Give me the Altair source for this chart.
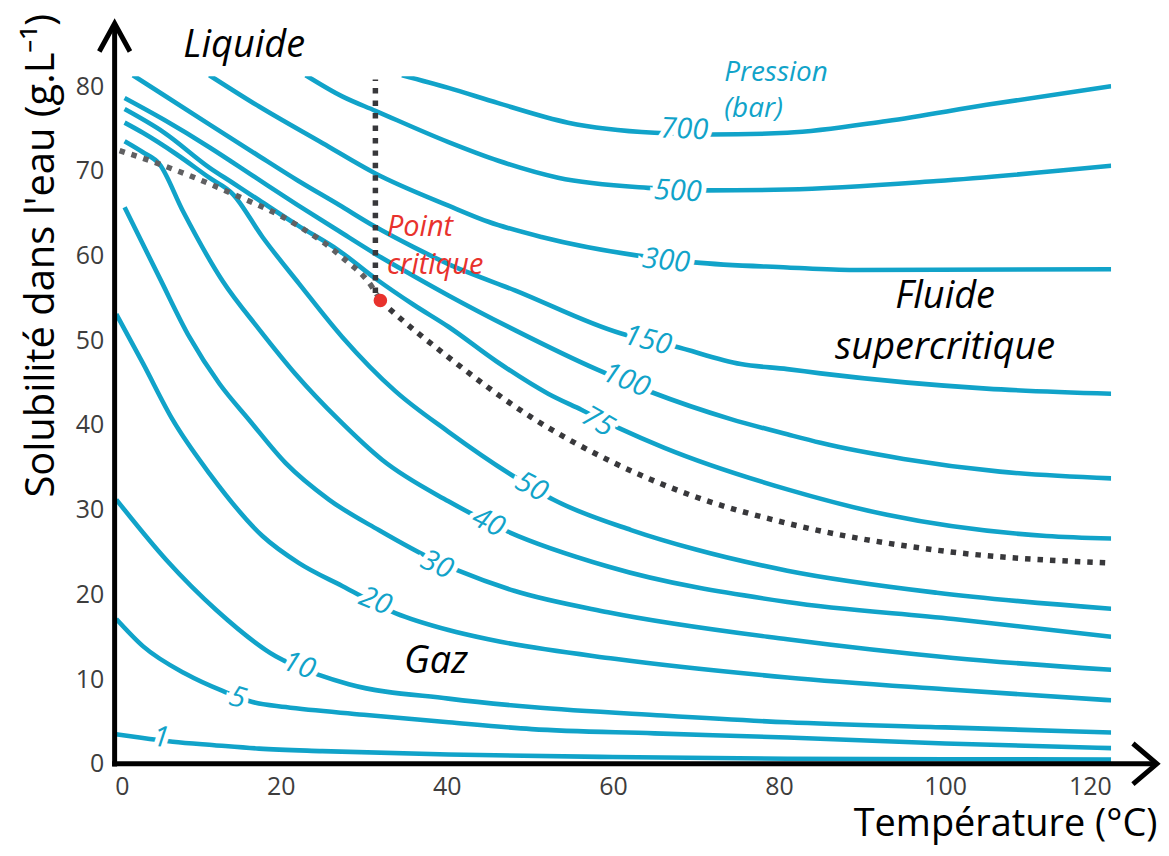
import altair as alt
import pandas as pd

CYAN = "#11a3c9"
RED = "#e8322d"
FONT = "Open Sans"

# ---------------- data ----------------
pressures = ["1", "5", "10", "20", "30", "40", "50", "75", "100", "150", "300", "500", "700"]

T_1 = [0.2, 3, 7, 12, 17.4, 25, 40.2, 60, 81, 100, 120]
S_1 = [3.5, 3.1, 2.6, 2.2, 1.8, 1.5, 1.1, 0.8, 0.6, 0.55, 0.5]

T_5 = [0.2, 3.4, 8.6, 13, 16.6, 20.6, 30, 40.2, 50.2, 65, 81, 100, 120]
S_5 = [17.1, 13.9, 10.6, 8.6, 7.3, 6.7, 5.8, 4.9, 4.1, 3.6, 3.1, 2.4, 1.85]

T_10 = [0.2, 6.2, 12.2, 19.4, 24.6, 28.2, 40.2, 50.2, 66, 81, 100, 120]
S_10 = [31.2, 24.1, 18.2, 12.7, 10.5, 9.4, 7.7, 6.7, 5.7, 4.9, 4.3, 3.7]

T_20 = [0.2, 3.4, 7, 11.4, 17.8, 22.2, 27.4, 33.8, 40.2, 45, 60.2, 81, 100, 120]
S_20 = [53.1, 47.3, 40.6, 34.3, 26.9, 23.7, 21.0, 17.8, 15.8, 14.7, 12.4, 10.2, 8.8, 7.5]

T_30 = [1.2, 5.4, 9, 12.6, 16.2, 20.6, 25.8, 31.8, 38.6, 41.4, 48.2, 59.4, 81, 101, 120]
S_30 = [65.7, 57.4, 50.4, 44.9, 40.6, 35.5, 31.2, 27.6, 24.0, 22.8, 20.4, 17.9, 14.7, 12.5, 11.1]

T_40 = [1.2, 3.4, 5.4, 8.2, 13, 17.4, 21.8, 27, 32.2, 40.2, 47.4, 59.4, 81, 101, 120]
S_40 = [73.5, 72.2, 70.8, 65.3, 57.0, 51.3, 46.0, 40.6, 35.9, 31.0, 27.4, 23.3, 19.1, 17.1, 15.0]

T_50 = [1.2, 3.4, 7.4, 11.4, 14.2, 17.8, 22.2, 27.4, 33.8, 40.2, 47.8, 52.8, 62.2, 70, 81, 99, 120]
S_50 = [75.7, 74.5, 72.0, 69.2, 67.3, 62.2, 56.7, 50.4, 44.0, 39.2, 34.1, 31.2, 27.6, 25.3, 22.8, 20.2, 18.3]

T_75 = [1.2, 6, 11.4, 14.2, 17, 22, 27, 31.4, 36, 40.2, 46, 52.2, 56.2, 60.8, 66.2, 81, 93, 112.2, 120]
S_75 = [77.3, 74.5, 70.4, 68.6, 66.8, 63.6, 60.6, 57.3, 54.2, 51.6, 47.5, 43.7, 41.8, 39.6, 37.3, 32.4, 29.4, 26.9, 26.6]

T_100 = [1.2, 6, 11.4, 17, 22, 27, 31.4, 36, 40.2, 48.2, 58.2, 64.6, 74.2, 81, 85, 95, 106.6, 120]
S_100 = [78.6, 76.0, 72.8, 69.2, 66.0, 62.9, 60.2, 57.6, 55.3, 51.2, 46.5, 43.9, 40.7, 38.9, 37.9, 36.0, 34.5, 33.7]

T_150 = [2.2, 6, 11.4, 17, 22, 27, 31.4, 36, 40.2, 48.2, 61, 67.4, 75.4, 81, 85, 105, 120]
S_150 = [81.3, 78.9, 75.5, 72.0, 68.9, 66.0, 63.4, 61.0, 59.0, 55.9, 50.8, 49.3, 47.2, 46.6, 46.1, 44.3, 43.7]

T_300 = [11.4, 17.4, 25, 31.4, 40.2, 45, 51.4, 63, 69.8, 81, 89, 120]
S_300 = [81.3, 77.6, 73.3, 69.7, 65.9, 64.0, 62.2, 60.0, 59.2, 58.6, 58.3, 58.4]

T_500 = [23, 27.4, 31.4, 40.2, 46.2, 53.4, 64.2, 71.2, 81, 99, 120]
S_500 = [81.3, 78.8, 77.1, 73.4, 71.2, 69.2, 68.0, 67.7, 67.8, 68.8, 70.6]

T_700 = [34.6, 40.2, 46.2, 54.6, 65, 71.8, 81, 93, 105, 120]
S_700 = [81.3, 79.8, 78.0, 75.7, 74.5, 74.3, 74.5, 75.9, 77.8, 80.0]

# saturation curve (liquid / gas boundary) up to the critical point
T_sat = [0.6, 5.4, 14.2, 21.8, 27.4, 31.0, 32.0]
S_sat = [72.4, 70.8, 67.3, 63.7, 59.8, 56.3, 54.7]
# continuation beyond the critical point
T_sup = [32.0, 33.0, 40.2, 50.2, 60.2, 70, 81, 100, 120]
S_sup = [54.7, 53.8, 48.0, 40.9, 35.5, 31.5, 28.4, 25.1, 23.7]
# vertical dotted line above the critical point
T_vert = [31.4]
S_vert_lo = [55.6]
S_vert_hi = [80.8]

crit_T = [32.0]
crit_S = [54.7]

label_T = [5.6, 14.8, 22.2, 31.4, 38.8, 45.0, 50.2, 58.2, 61.6, 64.2, 66.4, 67.8, 68.6]
label_S = [3.1, 7.8, 11.6, 19.2, 23.5, 28.5, 32.7, 40.4, 45.3, 50.0, 59.4, 67.6, 74.9]
label_angle = [6, 16, 20, 22, 24, 26, 28, 30, 22, 14, 6, 3, 2]

x_ticks = [0, 20, 40, 60, 80, 100, 120]
y_ticks = [0, 10, 20, 30, 40, 50, 60, 70, 80]

# ---------------- tables ----------------
curve_T = {"1": T_1, "5": T_5, "10": T_10, "20": T_20, "30": T_30, "40": T_40, "50": T_50,
           "75": T_75, "100": T_100, "150": T_150, "300": T_300, "500": T_500, "700": T_700}
curve_S = {"1": S_1, "5": S_5, "10": S_10, "20": S_20, "30": S_30, "40": S_40, "50": S_50,
           "75": S_75, "100": S_100, "150": S_150, "300": S_300, "500": S_500, "700": S_700}

rows = []
for p in pressures:
    for i, (t, s) in enumerate(zip(curve_T[p], curve_S[p])):
        rows.append({"P": p, "i": i, "T": t, "S": s})
curves_df = pd.DataFrame(rows)

drows = []
for seg, ts, ss in [("sat", T_sat, S_sat), ("sup", T_sup, S_sup)]:
    for i, (t, s) in enumerate(zip(ts, ss)):
        drows.append({"seg": seg, "i": i, "T": t, "S": s})
dotted_df = pd.DataFrame(drows)
vert_df = pd.DataFrame({"T": T_vert, "S": S_vert_lo, "S2": S_vert_hi})

labels_df = pd.DataFrame({"T": label_T, "S": label_S, "txt": pressures, "ang": label_angle})
crit_df = pd.DataFrame({"T": crit_T, "S": crit_S})

xs = alt.Scale(domain=[0, 120], nice=False, zero=False)
ys = alt.Scale(domain=[0, 81.18], nice=False, zero=False)

x_axis = alt.Axis(values=x_ticks, grid=False, domain=False, ticks=False, tickSize=0,
                  labelFontSize=25, labelColor="#3d3d3d", labelFont=FONT, labelPadding=11,
                  title="Température (°C)", titleFont=FONT, titleFontSize=38,
                  titleFontWeight="normal", titleColor="black", titleX=1046, titleY=72,
                  titleAlign="right", titleBaseline="alphabetic")
y_axis = alt.Axis(values=y_ticks, grid=False, domain=False, ticks=False, tickSize=0,
                  labelFontSize=25, labelColor="#3d3d3d", labelFont=FONT, labelPadding=11,
                  title="Solubilité dans l'eau (g.L⁻¹)", titleFont=FONT, titleFontSize=40,
                  titleFontWeight="normal", titleColor="black", titleAngle=270,
                  titleX=-61, titleY=-63, titleAlign="right", titleBaseline="alphabetic")


def X(field="T"):
    return alt.X(f"{field}:Q", scale=xs, axis=x_axis)


def Y(field="S"):
    return alt.Y(f"{field}:Q", scale=ys, axis=y_axis)


curves = alt.Chart(curves_df).mark_line(color=CYAN, strokeWidth=4.6, clip=True,
                                        interpolate="monotone",
                                        strokeJoin="round").encode(
    x=X(), y=Y(), detail="P:N", order="i:Q",
)

dotted = alt.Chart(dotted_df).mark_line(strokeWidth=5.5, strokeDash=[5.5, 7], clip=True,
                                        interpolate="monotone",
                                        strokeCap="butt").encode(
    x=X(), y=Y(), detail="seg:N", order="i:Q",
    color=alt.Color("seg:N", scale=alt.Scale(domain=["sat", "sup"],
                                             range=["#606062", "#38383b"]),
                    legend=None),
)

vert = alt.Chart(vert_df).mark_rule(strokeWidth=5.5, strokeDash=[5.5, 7], color="#38383b",
                                    strokeCap="butt").encode(
    x=X(), y=Y(), y2="S2:Q",
)

crit = alt.Chart(crit_df).mark_point(filled=True, size=185, color=RED, opacity=1).encode(
    x=X(), y=Y(),
)

halo = alt.Chart(labels_df).mark_text(font=FONT, fontStyle="italic", fontSize=29,
                                      stroke="white", strokeWidth=10, fill="white",
                                      align="center", baseline="middle").encode(
    x=X(), y=Y(), text="txt:N", angle=alt.Angle("ang:Q", scale=None),
)
labels = alt.Chart(labels_df).mark_text(font=FONT, fontStyle="italic", fontSize=29,
                                        fill=CYAN, align="center", baseline="middle").encode(
    x=X(), y=Y(), text="txt:N", angle=alt.Angle("ang:Q", scale=None),
)

# annotation texts
region_df = pd.DataFrame({"T": [15.6, 100.0, 100.0, 38.7],
                          "S": [84.7, 55.1, 49.1, 12.0],
                          "txt": ["Liquide", "Fluide", "supercritique", "Gaz"]})
regions = alt.Chart(region_df).mark_text(font=FONT, fontStyle="italic", fontSize=38,
                                         color="black", align="center",
                                         baseline="middle").encode(
    x=X(), y=Y(), text="txt:N",
)

crit_txt_df = pd.DataFrame({"T": [32.8, 32.8], "S": [63.4, 58.9], "txt": ["Point", "critique"]})
crit_txt = alt.Chart(crit_txt_df).mark_text(font=FONT, fontStyle="italic", fontSize=29,
                                            color=RED, align="left",
                                            baseline="middle").encode(
    x=X(), y=Y(), text="txt:N",
)

press_df = pd.DataFrame({"T": [73.4, 73.4], "S": [81.5, 77.3], "txt": ["Pression", "(bar)"]})
press = alt.Chart(press_df).mark_text(font=FONT, fontStyle="italic", fontSize=28,
                                      color=CYAN, align="left",
                                      baseline="middle").encode(
    x=X(), y=Y(), text="txt:N",
)

# axis lines with arrows
vline_df = pd.DataFrame({"T": [0], "S": [-0.3], "S2": [87.3]})
hline_df = pd.DataFrame({"T": [-0.3], "T2": [125.3], "S": [0]})
vline = alt.Chart(vline_df).mark_rule(color="black", strokeWidth=5).encode(
    x=X(), y=Y(), y2="S2:Q",
)
hline = alt.Chart(hline_df).mark_rule(color="black", strokeWidth=5).encode(
    x=X(), x2="T2:Q", y=Y(),
)
up_df = pd.DataFrame({"T": [0], "S": [87.4]})
right_df = pd.DataFrame({"T": [125.5], "S": [0]})
up_arrow = alt.Chart(up_df).mark_point(shape="M -0.55 1 L 0 0 L 0.55 1", size=3136,
                                       filled=False, stroke="black", strokeWidth=5,
                                       opacity=1, strokeJoin="miter").encode(
    x=X(), y=Y(),
)
right_arrow = alt.Chart(right_df).mark_point(shape="M -1 -0.85 L 0 0 L -1 0.85", size=2304,
                                             filled=False, stroke="black", strokeWidth=5,
                                             opacity=1, strokeJoin="miter").encode(
    x=X(), y=Y(),
)

chart = alt.layer(
    curves, dotted, vert, halo, labels, crit, regions, crit_txt, press,
    vline, hline, up_arrow, right_arrow,
).properties(
    width=1000, height=690,
    autosize=alt.AutoSizeParams(type="none"),
    padding={"left": 107, "top": 67, "right": 50, "bottom": 83},
).configure_view(stroke=None).configure_axis(grid=False)

chart.save("out.html", embed_options={"renderer": "svg", "actions": False})
